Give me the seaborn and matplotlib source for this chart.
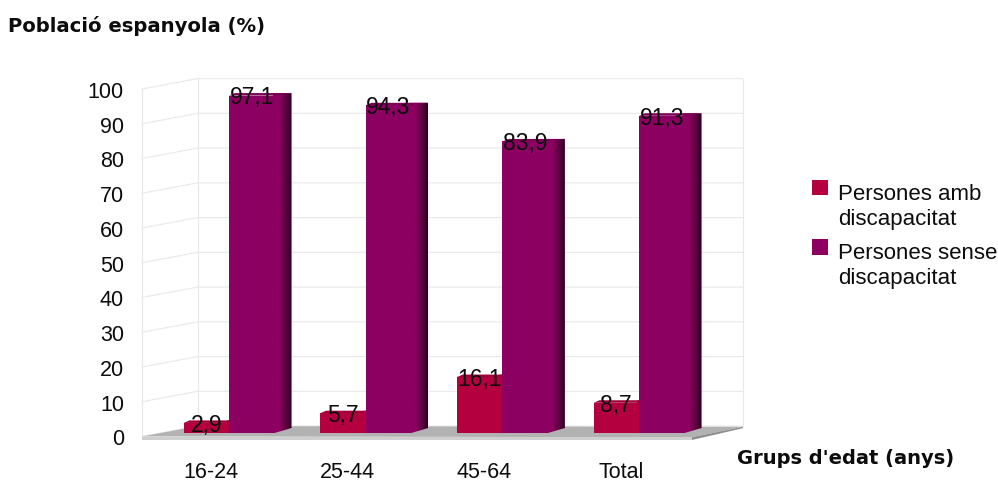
import numpy as np
import pandas as pd
import matplotlib
matplotlib.use("Agg")
import matplotlib.pyplot as plt
from matplotlib.colors import LinearSegmentedColormap, to_rgb
from matplotlib.patches import Polygon
from matplotlib.transforms import ScaledTranslation
import seaborn as sns

groups = ["16-24", "25-44", "45-64", "Total"]
with_disability = [2.9, 5.7, 16.1, 8.7]
without_disability = [97.1, 94.3, 83.9, 91.3]
series_names = ["Persones amb\ndiscapacitat", "Persones sense\ndiscapacitat"]
series_colors = ["#B4003F", "#8B0060"]
y_ticks = list(range(0, 101, 10))

W, H = 998, 481
DPI = 100

sns.set_theme(style="white")
plt.rcParams["font.family"] = ["Liberation Sans", "DejaVu Sans"]
FS = 15.5
INK = "#0c0c0c"


def box(x0, x1, y_bottom, y_top):
    """Axes rectangle given in pixels, measured from the top-left corner."""
    return [x0 / W, 1 - y_bottom / H, (x1 - x0) / W, (y_bottom - y_top) / H]


fig = plt.figure(figsize=(W / DPI, H / DPI), dpi=DPI, facecolor="white")

# Room walls and floor, with the value scale on the left edge
wall = fig.add_axes(box(142, 743, 437.5, 90))
wall.set_xlim(142, 743)
wall.set_ylim(0, 100)
wall.patch.set_visible(False)
sns.despine(ax=wall, left=True, bottom=True)
wall.set_xticks([])
wall.set_yticks(y_ticks)
wall.tick_params(axis="y", length=0, pad=13, labelsize=FS, labelcolor=INK)

back_x, back_lift = 197.7, 3.0
grid_color = "#e8e8e8"
for v in y_ticks:
    wall.plot([142, back_x, 743], [v, v + back_lift, v + back_lift],
              color=grid_color, lw=0.8, clip_on=False, zorder=1)
wall.plot([142, 142], [0, 100], color=grid_color, lw=0.8, clip_on=False, zorder=1)
for x in (back_x, 743):
    wall.plot([x, x], [back_lift, 100 + back_lift], color=grid_color, lw=0.8,
              clip_on=False, zorder=1)
wall.fill([142, back_x, 743, 692, 142], [0, back_lift, back_lift - 0.2, -0.2, 0],
          color="#b2b2b2", lw=0, clip_on=False, zorder=2)
wall.fill([142, 692, 692, 142], [0, 0, -1.0, -1.0],
          color="#cfcfcf", lw=0, clip_on=False, zorder=2)
wall.fill([692, 743, 743, 692], [-0.2, back_lift - 0.2, back_lift - 0.6, -1.0],
          color="#8e8e8e", lw=0, clip_on=False, zorder=2)

# Bars
ax = fig.add_axes(box(160.7, 707.4, 434, 86.5))
ax.patch.set_visible(False)
df = pd.DataFrame({
    "grup": groups * 2,
    "valor": with_disability + without_disability,
    "tipus": [series_names[0]] * 4 + [series_names[1]] * 4,
})
sns.barplot(data=df, x="grup", y="valor", hue="tipus", palette=series_colors,
            width=0.666, gap=0, saturation=1, errorbar=None, linewidth=0, ax=ax)
ax.set_yticks([])
sns.despine(ax=ax, left=True, bottom=True)

# Shaded side and top faces behind each bar
px_x = 4 / (707.4 - 160.7)
px_y = 100 / (434 - 86.5)
depth_x, depth_y, cap = 17 * px_x, 5 * px_y, 2.5 * px_y
overlap = 2 * px_x
ramp = np.linspace(0, 1, 64)[None, :]
for container, color in zip(ax.containers, series_colors):
    base = np.array(to_rgb(color))
    side_cmap = LinearSegmentedColormap.from_list(
        "side", [(0, base), (0.35, base), (0.72, base * 0.62), (1, (0.17, 0.0, 0.13))])
    for bar in container:
        x0, x1, v = bar.get_x(), bar.get_x() + bar.get_width(), bar.get_height()
        img = ax.imshow(ramp, cmap=side_cmap, aspect="auto", interpolation="bilinear",
                        extent=(x1 - overlap, x1 + depth_x, 0, v + cap), zorder=0.5)
        outline = Polygon([(x1 - overlap, 0), (x1, 0), (x1 + depth_x, depth_y),
                           (x1 + depth_x, v + cap), (x1 - overlap, v + cap)],
                          transform=ax.transData)
        img.set_clip_path(outline)
        ax.fill([x0, x0 + 6 * px_x, x1 + depth_x, x1],
                [v, v + cap, v + cap, v],
                color=base * 0.9, lw=0, zorder=0.5)

    value_labels = ax.bar_label(
        container, labels=[f"{b.get_height():.1f}".replace(".", ",") for b in container],
        padding=-1, fontsize=16.5, color=INK, zorder=5)
    for text in value_labels:
        text.set_va("center")

ax.set_xlim(-0.5, 3.5)
ax.set_ylim(0, 100)

# Category labels sit left of the group centre
ax.tick_params(axis="x", length=0, pad=20, labelsize=FS, labelcolor=INK)
shift = ScaledTranslation(-18 / DPI, 0, fig.dpi_scale_trans)
for label in ax.get_xticklabels():
    label.set_transform(label.get_transform() + shift)

ax.set_xlabel("Grups d'edat (anys)", family="DejaVu Sans", fontweight="bold",
              fontsize=14, color=INK, ha="left", va="center")
ax.xaxis.set_label_coords(737 / W, 1 - 458 / H, transform=fig.transFigure)
ax.set_ylabel("Població espanyola (%)", family="DejaVu Sans", fontweight="bold",
              fontsize=14.1, color=INK, rotation=0, ha="left", va="center")
ax.yaxis.set_label_coords(8 / W, 1 - 26 / H, transform=fig.transFigure)

sns.move_legend(ax, loc="upper left", bbox_to_anchor=(812 / W, 1 - 184 / H),
                bbox_transform=fig.transFigure, title=None, frameon=False,
                fontsize=16, handlelength=0.72, handleheight=0.72,
                handletextpad=0.45, labelspacing=0.6, borderaxespad=0, borderpad=0)
legend = ax.get_legend()
for t in legend.get_texts():
    t.set_linespacing(1.25)
    t.set_color(INK)
# Swatches line up with the first row of each two-line entry
for swatch in legend.get_patches():
    swatch.set_y(swatch.get_y() + 13.5)

fig.savefig("out.png", dpi=DPI)
